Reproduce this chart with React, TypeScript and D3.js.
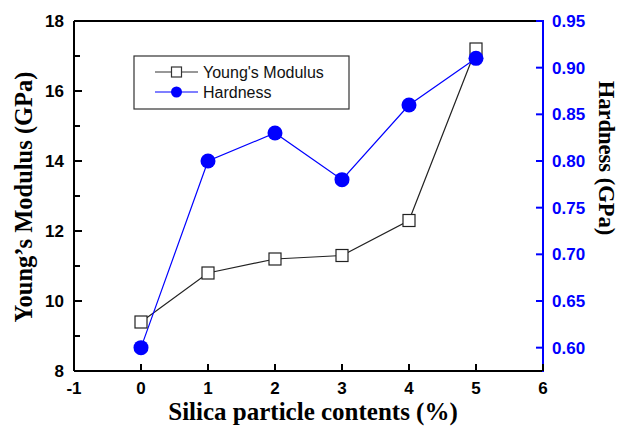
import React from "react";
import * as d3 from "d3";

const contents = [0, 1, 2, 3, 4, 5];
const youngs = [9.4, 10.8, 11.2, 11.3, 12.3, 17.2];
const hardness = [0.6, 0.8, 0.83, 0.78, 0.86, 0.91];
const xTicks = [-1, 0, 1, 2, 3, 4, 5, 6];
const yLeftTicks = [8, 10, 12, 14, 16, 18];
const yLeftMinor = [9, 11, 13, 15, 17];
const yRightTicks = [0.6, 0.65, 0.7, 0.75, 0.8, 0.85, 0.9, 0.95];

const W = 622, H = 428;
const L = 74, R = 543, T = 21, B = 371;

export default function App() {
  const x = d3.scaleLinear().domain([-1, 6]).range([L, R]);
  const yL = d3.scaleLinear().domain([8, 18]).range([B, T]);
  const yR = d3.scaleLinear().domain([0.575, 0.95]).range([B, T]);
  const lineY = d3.line<number>().x((_, i) => x(contents[i])).y((d) => yL(d));
  const lineH = d3.line<number>().x((_, i) => x(contents[i])).y((d) => yR(d));
  const tickFont = "Arial, 'Liberation Sans', sans-serif";
  const titleFont = "'Times New Roman', 'Liberation Serif', serif";
  return (
    <svg width={W} height={H} style={{ position: "absolute", left: 0, top: 0, background: "#fff" }}>
      {/* frame */}
      <line x1={L} x2={R} y1={T} y2={T} stroke="#000" strokeWidth={2} />
      <line x1={L} x2={R} y1={B} y2={B} stroke="#000" strokeWidth={2} />
      <line x1={L} x2={L} y1={T} y2={B} stroke="#000" strokeWidth={2} />
      <line x1={R} x2={R} y1={T - 1} y2={B + 1} stroke="#0000ff" strokeWidth={2} />
      {/* x ticks */}
      {xTicks.map((t) => (
        <g key={"x" + t}>
          <line x1={x(t)} x2={x(t)} y1={B} y2={B - 7} stroke="#000" strokeWidth={2} />
          <text x={x(t)} y={B + 23} textAnchor="middle" fontFamily={tickFont} fontWeight="bold" fontSize={17}>{t}</text>
        </g>
      ))}
      {/* left ticks */}
      {yLeftTicks.map((t) => (
        <g key={"yl" + t}>
          <line x1={L} x2={L + 8} y1={yL(t)} y2={yL(t)} stroke="#000" strokeWidth={2} />
          <text x={L - 10} y={yL(t) + 6} textAnchor="end" fontFamily={tickFont} fontWeight="bold" fontSize={17}>{t}</text>
        </g>
      ))}
      {yLeftMinor.map((t) => (
        <line key={"ym" + t} x1={L} x2={L + 6} y1={yL(t)} y2={yL(t)} stroke="#000" strokeWidth={2} />
      ))}
      {/* right ticks */}
      {yRightTicks.map((t) => (
        <g key={"yr" + t}>
          <line x1={R} x2={R - 7} y1={yR(t)} y2={yR(t)} stroke="#0000ff" strokeWidth={2} />
          <text x={R + 9} y={yR(t) + 6} textAnchor="start" fontFamily={tickFont} fontWeight="bold" fontSize={17} fill="#0000ff">{t.toFixed(2)}</text>
        </g>
      ))}
      {/* series */}
      <path d={lineY(youngs) || ""} fill="none" stroke="#222" strokeWidth={1.2} />
      <path d={lineH(hardness) || ""} fill="none" stroke="#0000ff" strokeWidth={1.2} />
      {youngs.map((v, i) => (
        <rect key={"ys" + i} x={x(contents[i]) - 6} y={yL(v) - 6} width={12} height={12} fill="#fff" stroke="#222" strokeWidth={1.2} />
      ))}
      {hardness.map((v, i) => (
        <circle key={"hc" + i} cx={x(contents[i])} cy={yR(v)} r={7.5} fill="#0000ff" />
      ))}
      {/* legend */}
      <rect x={134} y={56} width={215} height={53} fill="#fff" stroke="#333" strokeWidth={1.2} />
      <line x1={155} x2={198} y1={72} y2={72} stroke="#333" strokeWidth={1.2} />
      <rect x={171.5} y={67} width={10} height={10} fill="#fff" stroke="#333" strokeWidth={1.2} />
      <text x={203} y={77.5} fontFamily={tickFont} fontSize={16} fill="#111">Young's Modulus</text>
      <line x1={155} x2={198} y1={92} y2={92} stroke="#0000ff" strokeWidth={1.2} />
      <circle cx={176.5} cy={92} r={5.5} fill="#0000ff" />
      <text x={203} y={97.5} fontFamily={tickFont} fontSize={16} fill="#111">Hardness</text>
      {/* axis titles */}
      <text x={313} y={420} textAnchor="middle" fontFamily={titleFont} fontWeight="bold" fontSize={25}>Silica particle contents (%)</text>
      <text transform={`translate(32,${197}) rotate(-90)`} textAnchor="middle" fontFamily={titleFont} fontWeight="bold" fontSize={24.5}>Young’s Modulus (GPa)</text>
      <text transform={`translate(599,${158}) rotate(90)`} textAnchor="middle" fontFamily={titleFont} fontWeight="bold" fontSize={22.5}>Hardness (GPa)</text>
    </svg>
  );
}
